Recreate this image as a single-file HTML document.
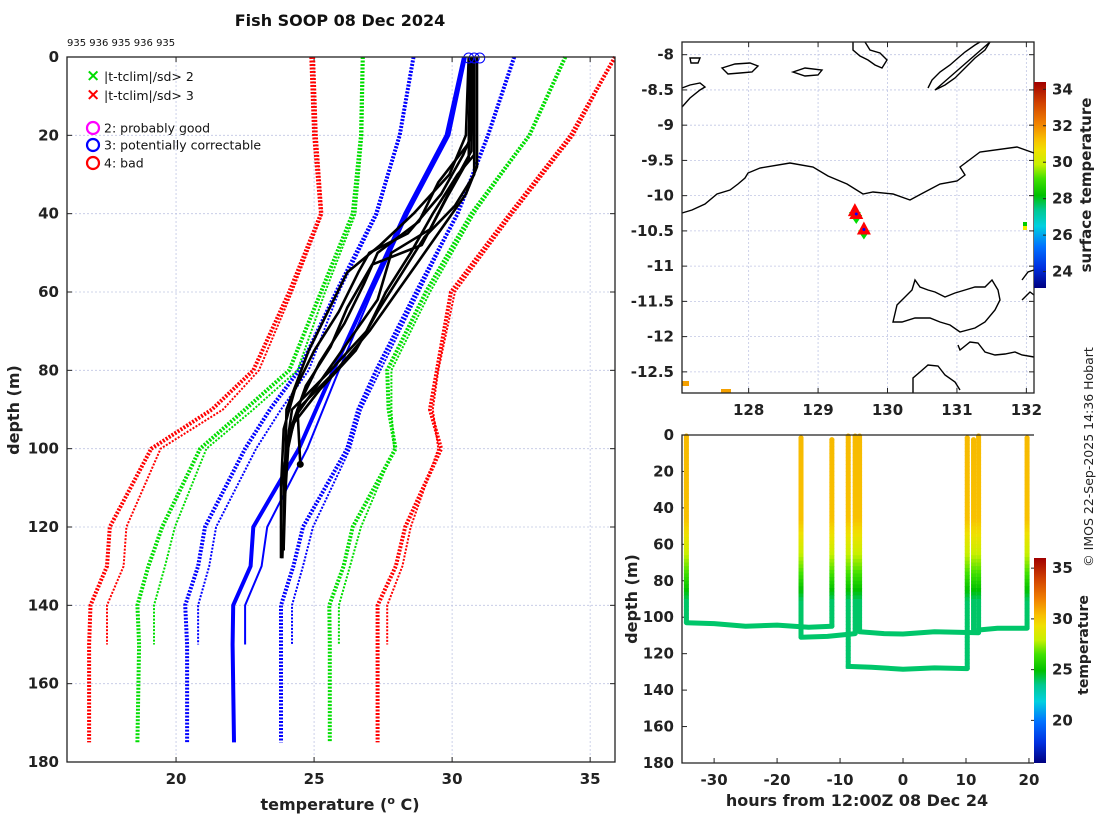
<!DOCTYPE html>
<html><head><meta charset="utf-8"><style>
html,body{margin:0;padding:0;background:#fff;}
svg{display:block;font-family:"DejaVu Sans","Liberation Sans",sans-serif;}
.tk{font-size:15px;font-weight:bold;fill:#222;}
.grid{stroke:#c0c6e4;stroke-width:0.8;stroke-dasharray:2,2;}
</style></head><body>
<svg id="chart" width="1100" height="820" viewBox="0 0 1100 820">
<text x="340" y="26" text-anchor="middle" font-size="16" font-weight="bold" fill="#111">Fish SOOP 08 Dec 2024</text>
<text x="67" y="46" font-size="10" fill="#111">935 936 935 936 935</text>
<g id="left"></g>
<g id="map"></g>
<g id="bot"></g>
<text transform="translate(1093,457) rotate(-90)" text-anchor="middle" font-size="12.5" fill="#222">© IMOS 22-Sep-2025 14:36 Hobart</text>
</svg>
<script>
// ---------- profile panel data ----------
const depthTicks=[0,20,40,60,80,100,120,140,160,180];
const tempTicks=[20,25,30,35];
const climDepths=[0,20,40,60,80,90,100,120,130,140,150,175];
const blueLeftThick=[28.6,28.1,27.25,25.8,24.45,23.4,22.5,21.05,20.8,20.33,20.4,20.4];
const blueLeftThin=[28.6,28.1,27.3,25.9,24.8,23.8,22.9,21.45,21.2,20.8,20.8];
const blueRightThick=[32.25,31.3,30.2,28.7,27.25,26.6,26.2,24.6,24.25,23.8,23.8,23.8];
const blueRightThin=[32.25,31.3,30.2,28.8,27.4,26.7,26.3,24.96,24.6,24.2,24.2];
const greenLeftThick=[26.76,26.7,26.4,25.25,24.1,22.5,20.87,19.5,19.0,18.6,18.66,18.6];
const greenLeftThin=[26.8,26.75,26.5,25.4,24.4,22.8,21.1,19.96,19.6,19.2,19.2];
const greenRightThick=[34.1,32.8,30.7,29.05,27.65,27.7,27.95,26.4,26.07,25.55,25.57,25.57];
const greenRightThin=[34.1,32.8,30.8,29.2,27.8,27.8,27.9,26.7,26.3,25.9,25.9];
const redLeftThick=[24.9,25.0,25.25,24.1,22.8,21.3,19.1,17.6,17.5,16.9,16.85,16.85];
const redLeftThin=[25.0,25.1,25.3,24.2,23.0,21.7,19.44,18.2,18.1,17.5,17.5];
const redRightThick=[35.9,34.3,32.1,29.96,29.45,29.2,29.6,28.3,27.96,27.3,27.3,27.3];
const redRightThin=[35.9,34.4,32.2,30.1,29.5,29.3,29.5,28.5,28.2,27.65,27.65];
const meanDepths=[0,20,40,60,80,100,120,130,140,150,175];
const meanThick=[30.43,29.8,28.3,27.0,25.7,24.45,22.8,22.7,22.07,22.05,22.1];
const meanThin=[30.5,29.9,28.4,27.1,25.9,24.75,23.3,23.1,22.5,22.5];
const prof1D=[0,20,25,35,45,50,55,65,75,85,95,110,128];
const prof1T=[30.7,30.7,30.4,29.6,28.4,27.0,26.6,25.9,25.0,24.3,23.9,23.8,23.8];
const prof2D=[0,25,30,40,50,60,70,80,90,100,125];
const prof2T=[30.8,30.8,30.2,29.3,28.5,27.6,26.9,25.6,24.2,24.0,23.9];
const prof3D=[0,20,30,40,48,55,65,75,90,120];
const prof3T=[30.6,30.5,29.9,28.6,27.4,26.2,25.5,24.8,24.0,23.9];
const prof4D=[0,28,35,45,52,60,70,80,90,104];
const prof4T=[30.9,30.9,30.5,29.5,28.8,28.0,27.0,25.8,24.4,24.5];
const prof5D=[0,22,32,42,50,58,68,78,88,100,128];
const prof5T=[30.7,30.6,29.5,28.8,27.3,26.8,26.1,25.2,24.5,24.0,23.85];
const prof6D=[0,30,38,46,55,65,75,85,95,115];
const prof6T=[30.8,30.8,30.1,29.0,28.2,27.3,26.5,25.2,24.1,23.9];
const prof7D=[0,24,33,44,50,62,72,82,92,105,126];
const prof7T=[30.75,30.7,30.0,29.2,27.8,27.3,26.3,25.3,24.3,23.9,23.9];
const prof8D=[0,26,36,48,53,64,74,84,96,112];
const prof8T=[30.65,30.6,29.8,28.9,27.1,26.2,25.6,24.7,24.1,23.95];
const circleTemps=[30.6,30.8,31.0];

const NS='http://www.w3.org/2000/svg';
function mk(parent,tag,attrs){const e=document.createElementNS(NS,tag);for(const k in attrs)e.setAttribute(k,attrs[k]);parent.appendChild(e);return e;}

const L={x0:67,x1:615,y0:57,y1:762,tmin:16.05,tmax:35.9,dmax:180};
const lx=t=>L.x0+(t-L.tmin)/(L.tmax-L.tmin)*(L.x1-L.x0);
const ly=d=>L.y0+d/L.dmax*(L.y1-L.y0);
const left=document.getElementById('left');
depthTicks.forEach(d=>{
  const g=mk(left,'line',{x1:L.x0,x2:L.x1,y1:ly(d),y2:ly(d),class:'grid'});
  
  const t=mk(left,'text',{x:L.x0-8,y:ly(d)+5,'text-anchor':'end',class:'tk'});t.textContent=d;
  
  mk(left,'line',{x1:L.x0,x2:L.x0+5,y1:ly(d),y2:ly(d),stroke:'#222'});
  mk(left,'line',{x1:L.x1-5,x2:L.x1,y1:ly(d),y2:ly(d),stroke:'#222'});
});
tempTicks.forEach(v=>{
  const g=mk(left,'line',{x1:lx(v),x2:lx(v),y1:L.y0,y2:L.y1,class:'grid'});
  
  const t=mk(left,'text',{x:lx(v),y:L.y1+22,'text-anchor':'middle',class:'tk'});t.textContent=v;
  
  mk(left,'line',{x1:lx(v),x2:lx(v),y1:L.y1,y2:L.y1-5,stroke:'#222'});
  mk(left,'line',{x1:lx(v),x2:lx(v),y1:L.y0,y2:L.y0+5,stroke:'#222'});
});
function line(parent,ds,ts,stroke,w,dash,name){
  const pts=ts.map((t,i)=>lx(t).toFixed(1)+','+ly(ds[i]).toFixed(1)).join(' ');
  const p=mk(parent,'polyline',{points:pts,fill:'none',stroke:stroke,'stroke-width':w,'stroke-linejoin':'round'});
  if(dash)p.setAttribute('stroke-dasharray',dash);
  
  return p;
}
const clipL=mk(left,'clipPath',{id:'clipL'});mk(clipL,'rect',{x:L.x0,y:L.y0-8,width:L.x1-L.x0,height:L.y1-L.y0+8});
const cg=mk(left,'g',{'clip-path':'url(#clipL)'});
const thinD=climDepths.slice(0,11);
[[redLeftThick,'#f00',4,'red-left-3sd-thick'],[redRightThick,'#f00',4,'red-right-3sd-thick'],
 [greenLeftThick,'#0d0',4,'green-left-2sd-thick'],[greenRightThick,'#0d0',4,'green-right-2sd-thick'],
 [blueLeftThick,'#00f',4,'blue-left-1sd-thick'],[blueRightThick,'#00f',4,'blue-right-1sd-thick']].forEach(a=>line(cg,climDepths,a[0],a[1],a[2],'2,1.5',a[3]));
[[redLeftThin,'#f00','red-left-3sd-thin'],[redRightThin,'#f00','red-right-3sd-thin'],
 [greenLeftThin,'#0d0','green-left-2sd-thin'],[greenRightThin,'#0d0','green-right-2sd-thin'],
 [blueLeftThin,'#00f','blue-left-1sd-thin'],[blueRightThin,'#00f','blue-right-1sd-thin']].forEach(a=>line(cg,thinD,a[0],a[1],2,'2,1.5',a[2]));
line(cg,meanDepths,meanThick,'#00f',4,null,'climatology-mean-thick');
line(cg,meanDepths.slice(0,10),meanThin,'#00f',2,null,'climatology-mean-thin');
[[prof1D,prof1T],[prof2D,prof2T],[prof3D,prof3T],[prof4D,prof4T],[prof5D,prof5T],[prof6D,prof6T],[prof7D,prof7T],[prof8D,prof8T]].forEach((p,i)=>line(cg,p[0],p[1],'#000',2.6,null,'temperature-profile-'+(i+1)));
const endDot=mk(cg,'circle',{cx:lx(prof4T[prof4T.length-1]),cy:ly(prof4D[prof4D.length-1]),r:3.5,fill:'#000'});

circleTemps.forEach(t=>{const c=mk(cg,'circle',{cx:lx(t),cy:ly(0)+1,r:5,fill:'none',stroke:'#00f','stroke-width':1});
  });
mk(left,'rect',{x:L.x0,y:L.y0,width:L.x1-L.x0,height:L.y1-L.y0,fill:'none',stroke:'#222','stroke-width':1.3});
const lg=mk(left,'g',{});
[['×','#0d0','|t-tclim|/sd> 2',76],['×','#f00','|t-tclim|/sd> 3',95]].forEach(e=>{
  const m=mk(lg,'text',{x:86,y:e[3]+5,'font-size':17,'font-weight':'bold',fill:e[1]});m.textContent=e[0];
  const t=mk(lg,'text',{x:104,y:e[3]+5,'font-size':12.5,fill:'#111'});t.textContent=e[2];
  });
[['#f0f','2: probably good',128],['#00f','3: potentially correctable',145],['#f00','4: bad',163]].forEach(e=>{
  mk(lg,'circle',{cx:93,cy:e[2],r:6,fill:'none',stroke:e[0],'stroke-width':2.2});
  const t=mk(lg,'text',{x:104,y:e[2]+4.5,'font-size':12.5,fill:'#111'});t.textContent=e[1];
  });
let t=mk(left,'text',{transform:'translate(19,410) rotate(-90)','text-anchor':'middle','font-size':16,'font-weight':'bold',fill:'#222'});t.textContent='depth (m)';

t=mk(left,'text',{x:340,y:810,'text-anchor':'middle','font-size':16,'font-weight':'bold',fill:'#222'});
t.innerHTML='temperature (<tspan dy="-6" font-size="11">o</tspan><tspan dy="6"> C)</tspan>';


// ---------- colormap ----------
const cmapStops=[[0,'#000080'],[0.1,'#0030e0'],[0.2,'#0070ff'],[0.3,'#00d0e0'],[0.38,'#00c890'],[0.45,'#00c000'],[0.53,'#40e000'],[0.6,'#c8f000'],[0.67,'#f0e000'],[0.72,'#f8c000'],[0.8,'#f08000'],[0.9,'#d04000'],[1,'#a00000']];
function hex(c){return [1,3,5].map(i=>parseInt(c.substr(i,2),16));}
function cmap(f){f=Math.max(0,Math.min(1,f));for(let i=1;i<cmapStops.length;i++){if(f<=cmapStops[i][0]){const a=cmapStops[i-1],b=cmapStops[i];const u=(f-a[0])/(b[0]-a[0]);const A=hex(a[1]),B=hex(b[1]);return 'rgb('+A.map((v,k)=>Math.round(v+(B[k]-v)*u)).join(',')+')';}}return cmapStops[cmapStops.length-1][1];}
const defs=mk(document.getElementById('chart'),'defs',{});
function grad(id){const g=mk(defs,'linearGradient',{id:id,x1:0,y1:1,x2:0,y2:0});cmapStops.forEach(s=>mk(g,'stop',{offset:s[0],'stop-color':s[1]}));}
grad('cbgrad');

// ---------- map panel ----------
const latTicks=[-8,-8.5,-9,-9.5,-10,-10.5,-11,-11.5,-12,-12.5];
const lonTicks=[128,129,130,131,132];
const profLon=[129.53,129.55,129.66];
const profLat=[-10.22,-10.26,-10.48];
const sstTicks=[24,26,28,30,32,34];
const M={x0:682,x1:1034,y0:42,y1:393,lon0:127.04,lon1:132.11,lat0:-7.82,lat1:-12.8};
const mx=v=>M.x0+(v-M.lon0)/(M.lon1-M.lon0)*(M.x1-M.x0);
const my=v=>M.y0+(v-M.lat0)/(M.lat1-M.lat0)*(M.y1-M.y0);
const map=document.getElementById('map');
latTicks.forEach(v=>{const g=mk(map,'line',{x1:M.x0,x2:M.x1,y1:my(v),y2:my(v),class:'grid'});
  
  const tx=mk(map,'text',{x:M.x0-8,y:my(v)+5,'text-anchor':'end',class:'tk'});tx.textContent=v;
  
  mk(map,'line',{x1:M.x0,x2:M.x0+5,y1:my(v),y2:my(v),stroke:'#222'});mk(map,'line',{x1:M.x1-5,x2:M.x1,y1:my(v),y2:my(v),stroke:'#222'});});
lonTicks.forEach(v=>{const g=mk(map,'line',{x1:mx(v),x2:mx(v),y1:M.y0,y2:M.y1,class:'grid'});
  
  const tx=mk(map,'text',{x:mx(v),y:M.y1+22,'text-anchor':'middle',class:'tk'});tx.textContent=v;
  
  mk(map,'line',{x1:mx(v),x2:mx(v),y1:M.y1,y2:M.y1-5,stroke:'#222'});mk(map,'line',{x1:mx(v),x2:mx(v),y1:M.y0,y2:M.y0+5,stroke:'#222'});});
const coast=[
 'M682,213 L692,210 L705,204 L717,194 L730,190 L738,184 L745,178 L748,173 L760,168 L790,163 L813,167 L828,176 L847,184 L863,194 L873,192 L893,194 L910,200 L923,193 L940,184 L957,181 L965,175 L960,167 L980,152 L1017,147 L1034,153',
 'M893,322 L897,305 L905,297 L912,290 L915,280 L920,287 L928,290 L935,292 L945,297 L955,293 L965,290 L975,287 L985,287 L992,280 L998,290 L1000,300 L995,310 L985,322 L975,328 L960,332 L950,325 L940,322 L930,318 L915,318 L902,322 Z',
 'M913,393 L913,378 L920,372 L928,365 L938,366 L945,375 L955,382 L960,390',
 'M958,345 L960,350 L970,342 L978,343 L985,352 L995,355 L1005,354 L1015,352 L1022,355 L1034,357',
 'M853,42 L853,50 L860,56 L868,60 L875,65 L882,68 L887,60 L880,53 L870,50 L865,42',
 'M928,88 L932,80 L940,72 L950,65 L958,58 L965,52 L975,45 L980,42 M990,42 L985,50 L975,58 L965,68 L955,78 L945,85 L935,90 Z',
 'M722,68 L735,64 L750,63 L758,66 L752,72 L740,73 L728,74 Z',
 'M793,72 L805,68 L822,70 L818,75 L805,76 Z',
 'M682,107 L690,98 L700,90 L705,87 L700,83 L690,85 L682,88',
 'M690,58 L700,58 L698,63 L691,63 Z',
 'M1022,280 L1028,272 L1034,270 M1022,300 L1030,292 L1034,295'];
coast.forEach(d=>{const p=mk(map,'path',{d:d,fill:'none',stroke:'#000','stroke-width':1.4});
  });
profLon.forEach((lo,i)=>{const x=mx(lo),y=my(profLat[i]);
  const g=mk(map,'polygon',{points:(x-6)+','+(y+1)+' '+(x+6)+','+(y+1)+' '+x+','+(y+10),fill:'#0d0'});
  
  const r=mk(map,'polygon',{points:(x-7)+','+(y+5)+' '+(x+7)+','+(y+5)+' '+x+','+(y-8),fill:'#f00'});
  
  mk(map,'circle',{cx:x,cy:y,r:1.5,fill:'#00f'});});
mk(map,'rect',{x:1023,y:222,width:4,height:4,fill:'#0c0'});mk(map,'rect',{x:1023,y:226,width:4,height:4,fill:'#ee0'});
mk(map,'rect',{x:682,y:381,width:7,height:5,fill:'#f4a000'});mk(map,'rect',{x:721,y:389,width:10,height:4,fill:'#f4a000'});
mk(map,'rect',{x:M.x0,y:M.y0,width:M.x1-M.x0,height:M.y1-M.y0,fill:'none',stroke:'#222','stroke-width':1.3});
const CB1={x:1034,w:12,y0:82,y1:288,v0:23.1,v1:34.4};
let cb=mk(map,'rect',{x:CB1.x,y:CB1.y0,width:CB1.w,height:CB1.y1-CB1.y0,fill:'url(#cbgrad)'});

sstTicks.forEach(v=>{const y=CB1.y1-(v-CB1.v0)/(CB1.v1-CB1.v0)*(CB1.y1-CB1.y0);
  const tx=mk(map,'text',{x:1052,y:y+5,class:'tk'});tx.textContent=v;
  
  mk(map,'line',{x1:CB1.x+CB1.w-3,x2:CB1.x+CB1.w,y1:y,y2:y,stroke:'#222'});});
t=mk(map,'text',{transform:'translate(1091,185) rotate(-90)','text-anchor':'middle','font-size':15,'font-weight':'bold',fill:'#222'});t.textContent='surface temperature';


// ---------- time-depth panel ----------
const hourTicks=[-30,-20,-10,0,10,20];
const dropHours=[-34.4,-16.2,-11.3,-8.7,-7.6,-6.9,10.2,11.2,12.0,19.7];
const dropBottoms=[103,111,105,128,109,108,128,108,108,106];
const dropTops=[0,1,2,0,0,0,1,2,0,1];
const dropColorDepth=[0,45,60,75,90,130];
const dropColorTemp=[30.5,30.3,28.5,26.5,23.9,23.8];
const bottomPaths=[
 [[-34.4,103],[-30,103.5],[-25,105],[-20,104.3],[-15,105.5],[-11.3,105]],
 [[-16.2,111],[-12,110.5],[-7.6,109]],
 [[-8.7,127],[-5,127.5],[0,128.5],[5,127.8],[10.2,128.2]],
 [[-6.9,108],[-3,109],[0,109.2],[5,108],[12.0,108.5]],
 [[12.0,107],[15,106],[19.7,106]]];
const cbTicks=[20,25,30,35];
const B={x0:682,x1:1034,y0:435,y1:763,h0:-35.1,h1:20.8,dmax:180};
const bx=h=>B.x0+(h-B.h0)/(B.h1-B.h0)*(B.x1-B.x0);
const by=d=>B.y0+d/B.dmax*(B.y1-B.y0);
const CB2={x:1034,w:12,y0:558,y1:763,v0:15.8,v1:36};
const tcol=v=>cmap((v-CB2.v0)/(CB2.v1-CB2.v0));
const bot=document.getElementById('bot');
depthTicks.forEach(d=>{const tx=mk(bot,'text',{x:B.x0-8,y:by(d)+5,'text-anchor':'end',class:'tk'});tx.textContent=d;
  
  mk(bot,'line',{x1:B.x0,x2:B.x0+5,y1:by(d),y2:by(d),stroke:'#222'});});
hourTicks.forEach(h=>{const tx=mk(bot,'text',{x:bx(h),y:B.y1+22,'text-anchor':'middle',class:'tk'});tx.textContent=h;
  
  mk(bot,'line',{x1:bx(h),x2:bx(h),y1:B.y1,y2:B.y1-5,stroke:'#222'});});
function interpT(d){for(let i=1;i<dropColorDepth.length;i++){if(d<=dropColorDepth[i]){const u=(d-dropColorDepth[i-1])/(dropColorDepth[i]-dropColorDepth[i-1]);return dropColorTemp[i-1]+u*(dropColorTemp[i]-dropColorTemp[i-1]);}}return dropColorTemp[dropColorTemp.length-1];}
const bottomCol=tcol(interpT(110));
bottomPaths.forEach(p=>{const pl=mk(bot,'polyline',{points:p.map(q=>bx(q[0]).toFixed(1)+','+by(q[1]).toFixed(1)).join(' '),fill:'none',stroke:bottomCol,'stroke-width':5,'stroke-linejoin':'round','stroke-linecap':'round'});
  });
dropHours.forEach((h,i)=>{const g=mk(bot,'g',{});
  
  for(let d=dropTops[i];d<dropBottoms[i];d+=2){
    mk(g,'rect',{x:bx(h)-2.5,y:by(d),width:5,height:by(Math.min(d+2,dropBottoms[i]))-by(d)+0.6,fill:tcol(interpT(d))});}
  mk(g,'circle',{cx:bx(h),cy:by(dropTops[i])+1,r:2.5,fill:tcol(interpT(0))});});
mk(bot,'polyline',{points:B.x1+','+B.y0+' '+B.x0+','+B.y0+' '+B.x0+','+B.y1+' '+B.x1+','+B.y1,fill:'none',stroke:'#222','stroke-width':1.3});
cb=mk(bot,'rect',{x:CB2.x,y:CB2.y0,width:CB2.w,height:CB2.y1-CB2.y0,fill:'url(#cbgrad)'});

cbTicks.forEach(v=>{const y=CB2.y1-(v-CB2.v0)/(CB2.v1-CB2.v0)*(CB2.y1-CB2.y0);
  const tx=mk(bot,'text',{x:1052,y:y+5,class:'tk'});tx.textContent=v;
  
  mk(bot,'line',{x1:CB2.x-3,x2:CB2.x,y1:y,y2:y,stroke:'#222'});});
t=mk(bot,'text',{transform:'translate(1088,645) rotate(-90)','text-anchor':'middle','font-size':14,'font-weight':'bold',fill:'#222'});t.textContent='temperature';

t=mk(bot,'text',{transform:'translate(637,599) rotate(-90)','text-anchor':'middle','font-size':16,'font-weight':'bold',fill:'#222'});t.textContent='depth (m)';

t=mk(bot,'text',{x:857,y:806,'text-anchor':'middle','font-size':16,'font-weight':'bold',fill:'#222'});t.textContent='hours from 12:00Z 08 Dec 24';

</script>
</body></html>
